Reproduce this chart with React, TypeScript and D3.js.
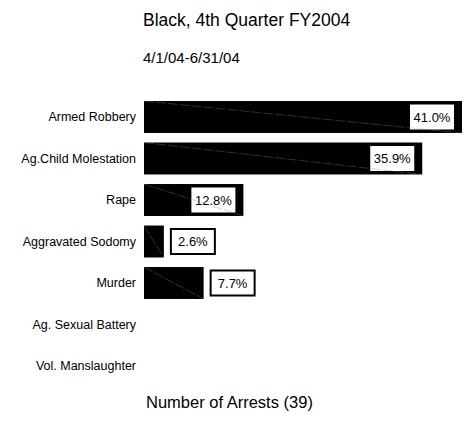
import React from "react";
import * as d3 from "d3";

const categories = [
  "Armed Robbery",
  "Ag.Child Molestation",
  "Rape",
  "Aggravated Sodomy",
  "Murder",
  "Ag. Sexual Battery",
  "Vol. Manslaughter",
];
const counts = [16, 14, 5, 1, 3, 0, 0];
const total = 39;
const title = "Black, 4th Quarter FY2004";
const subtitle = "4/1/04-6/31/04";
const footer = "Number of Arrests (39)";

const W = 464;
const H = 438;
const font = "Arial, 'Liberation Sans', sans-serif";

export default function App() {
  const x = d3.scaleLinear().domain([0, 16]).range([144, 462]);
  const y = d3
    .scaleBand<string>()
    .domain(categories)
    .range([96.25, 386.75])
    .paddingInner(0.23)
    .paddingOuter(0.115);
  const bh = y.bandwidth();
  return (
    <svg
      width={W}
      height={H}
      style={{ position: "absolute", left: 0, top: 0, background: "#fff" }}
      fontFamily={font}
    >
      <rect width={W} height={H} fill="#fff" />
      <text x={143} y={26} fontSize={17.5} fill="#000">
        {title}
      </text>
      <text x={143} y={63} fontSize={15} fill="#000">
        {subtitle}
      </text>
      {categories.map((c, i) => {
        const yc = (y(c) as number) + bh / 2;
        return (
          <text
            key={"l" + i}
            x={136}
            y={yc}
            dy="0.35em"
            textAnchor="end"
            fontSize={12.5}
            fill="#000"
          >
            {c}
          </text>
        );
      })}
      {categories.map((c, i) => {
        const v = counts[i];
        if (v <= 0) return null;
        const y0 = y(c) as number;
        const x0 = x(0);
        const x1 = x(v);
        const pct = ((v / total) * 100).toFixed(1) + "%";
        const inside = v >= 5;
        const bw = 44;
        const bhh = 25;
        const bx = inside ? x1 - 30 - bw / 2 : x1 + 7;
        const by = y0 + bh / 2 - bhh / 2;
        return (
          <g key={"b" + i}>
            <rect x={x0} y={y0} width={x1 - x0} height={bh} fill="#000" />
            <rect
              x={bx}
              y={by}
              width={bw}
              height={bhh}
              fill="#fff"
              stroke={inside ? "none" : "#000"}
              strokeWidth={2}
            />
            <line
              x1={x0}
              y1={y0}
              x2={x1}
              y2={y0 + bh}
              stroke="#888"
              strokeOpacity={0.7}
              strokeWidth={0.5}
              strokeDasharray="10,2"
            />
            <text
              x={bx + bw / 2}
              y={by + bhh / 2}
              dy="0.35em"
              textAnchor="middle"
              fontSize={13}
              fill="#000"
            >
              {pct}
            </text>
          </g>
        );
      })}
      <text x={146} y={408} fontSize={16.5} fill="#000">
        {footer}
      </text>
    </svg>
  );
}
